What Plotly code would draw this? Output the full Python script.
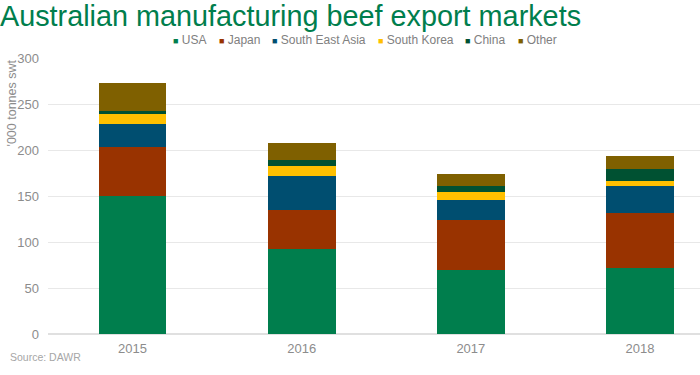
import plotly.graph_objects as go

years = ["2015", "2016", "2017", "2018"]
series_names = ["USA", "Japan", "South East Asia", "South Korea", "China", "Other"]
usa = [150.5, 92.4, 70.0, 71.3]
japan = [52.3, 42.0, 54.0, 59.8]
sea = [26.0, 37.6, 21.7, 29.3]
south_korea = [9.8, 10.2, 9.0, 6.2]
china = [3.6, 7.3, 5.7, 13.1]
other = [31.0, 18.1, 13.5, 14.1]
values = [usa, japan, sea, south_korea, china, other]
colors = ["#007E4D", "#993300", "#004E70", "#FFC000", "#005132", "#7F6000"]
legend_x_px = [171, 217, 270, 376, 463, 516]

L, T, W, H = 48, 58, 652, 276

fig = go.Figure()
for name, vals, col in zip(series_names, values, colors):
    fig.add_trace(go.Bar(x=years, y=vals, name=name, marker=dict(color=col, line=dict(width=0))))

annotations = [
    dict(text="'000 tonnes swt", x=(11 - L) / W, xref="paper", y=1.0, yref="paper",
         xanchor="center", yanchor="top", textangle=-90, showarrow=False,
         font=dict(size=12.5, color="#8c8c8c")),
    dict(text="Source: DAWR", x=(8 - L) / W, xref="paper", y=(T + H - 357) / H, yref="paper",
         xanchor="left", yanchor="middle", showarrow=False,
         font=dict(size=10.5, color="#a6a6a6")),
]
for name, col, px in zip(series_names, colors, legend_x_px):
    annotations.append(dict(
        text=f'<span style="color:{col};font-size:9px">■</span> {name}',
        x=(px - L) / W, xref="paper", y=(T + H - 40) / H, yref="paper",
        xanchor="left", yanchor="middle", showarrow=False,
        font=dict(size=12, color="#808080")))

fig.update_layout(
    barmode="stack",
    bargap=0.6,
    width=700, height=375,
    margin=dict(l=L, r=0, t=T, b=375 - T - H, autoexpand=False),
    paper_bgcolor="white", plot_bgcolor="white",
    font=dict(family="Liberation Sans, Arial", color="#8c8c8c", size=13),
    title=dict(text="Australian manufacturing beef export markets", x=0, xanchor="left",
               xref="container", y=0.984, yanchor="top", pad=dict(l=0, t=0),
               font=dict(family="Liberation Sans, Arial", size=28.8, color="#007E4D")),
    showlegend=False,
    hovermode=False,
    xaxis=dict(range=[-0.5, 3.355], showgrid=False, showline=False, ticks="", automargin=False,
               tickfont=dict(size=13, color="#8c8c8c"), fixedrange=True, ticklabelstandoff=5),
    yaxis=dict(range=[0, 300], dtick=50, showgrid=True, gridcolor="#e8e8e8", gridwidth=1,
               zeroline=True, zerolinecolor="#e0e0e0", showline=False, ticks="", automargin=False,
               tickfont=dict(size=13, color="#8c8c8c"), ticklabelstandoff=8, fixedrange=True),
    annotations=annotations,
)

fig.write_html("out.html", config={"displayModeBar": False, "staticPlot": True},
               post_script="document.body.style.margin='0';document.body.style.overflow='hidden';")
